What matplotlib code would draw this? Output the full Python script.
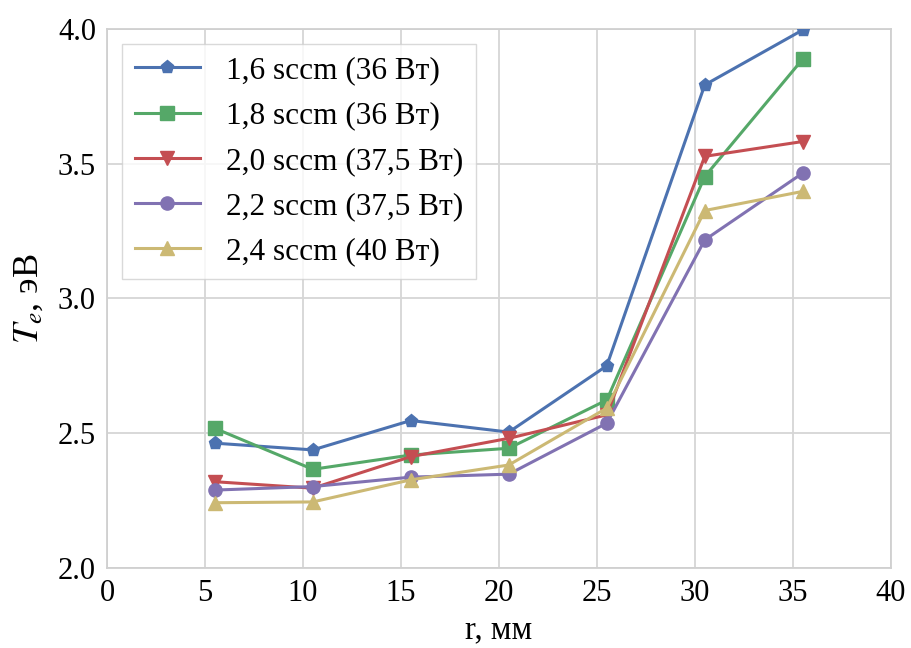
import matplotlib
matplotlib.use("Agg")
import matplotlib.pyplot as plt

# radius of the probe position, mm
r_mm = [5.5, 10.5, 15.5, 20.5, 25.5, 30.5, 35.5]

te_16 = [2.463, 2.438, 2.547, 2.504, 2.750, 3.792, 3.996]
te_18 = [2.518, 2.366, 2.419, 2.444, 2.623, 3.452, 3.888]
te_20 = [2.320, 2.296, 2.413, 2.481, 2.568, 3.527, 3.582]
te_22 = [2.289, 2.302, 2.337, 2.348, 2.537, 3.217, 3.465]
te_24 = [2.242, 2.245, 2.327, 2.382, 2.593, 3.326, 3.397]

labels = ["1,6 sccm (36 Вт)", "1,8 sccm (36 Вт)", "2,0 sccm (37,5 Вт)",
          "2,2 sccm (37,5 Вт)", "2,4 sccm (40 Вт)"]
x_ticks = [0, 5, 10, 15, 20, 25, 30, 35, 40]
y_ticks = [2.0, 2.5, 3.0, 3.5, 4.0]

# ── style ──────────────────────────────────────────────────────────────────────
plt.rcParams["font.family"] = ["Liberation Serif", "DejaVu Serif"]
plt.rcParams["mathtext.fontset"] = "stix"

colors  = ["#4C72B0", "#55A868", "#C44E52", "#8172B2", "#CCB974"]
markers = ["p", "s", "v", "o", "^"]
series  = [te_16, te_18, te_20, te_22, te_24]

fig = plt.figure(figsize=(9.11, 6.48), dpi=100)
ax = fig.add_axes([0.1175, 0.1235, 0.8605, 0.832])

for y, c, m, lab in zip(series, colors, markers, labels):
    ax.plot(r_mm, y, color=c, marker=m, markersize=9.5, linewidth=2.2,
            label=lab, zorder=3)

ax.set_xlim(0, 40)
ax.set_ylim(2.0, 4.0)
ax.set_xticks(x_ticks)
ax.set_yticks(y_ticks)
ax.set_xticklabels([str(v) for v in x_ticks])
ax.set_yticklabels([f"{v:.1f}" for v in y_ticks])
ax.tick_params(length=0, labelsize=22, pad=8)

ax.grid(True, color="#d6d6d6", linewidth=1.3)
ax.set_axisbelow(True)
for sp in ax.spines.values():
    sp.set_color("#d0d0d0")
    sp.set_linewidth(1.3)

ax.set_xlabel("r, мм", fontsize=23.5, labelpad=5)
ax.set_ylabel("$T_e$, эВ", fontsize=26)
ax.yaxis.set_label_coords(-0.078, 0.5)

leg = ax.legend(loc="upper left", fontsize=22.5, frameon=True,
                handlelength=2.1, handletextpad=0.83, labelspacing=0.52,
                borderaxespad=0.48, borderpad=0.4, fancybox=False)
leg.get_frame().set_edgecolor("#d0d0d0")
leg.get_frame().set_linewidth(1.0)

plt.savefig("out.png", dpi=100)
plt.close()
